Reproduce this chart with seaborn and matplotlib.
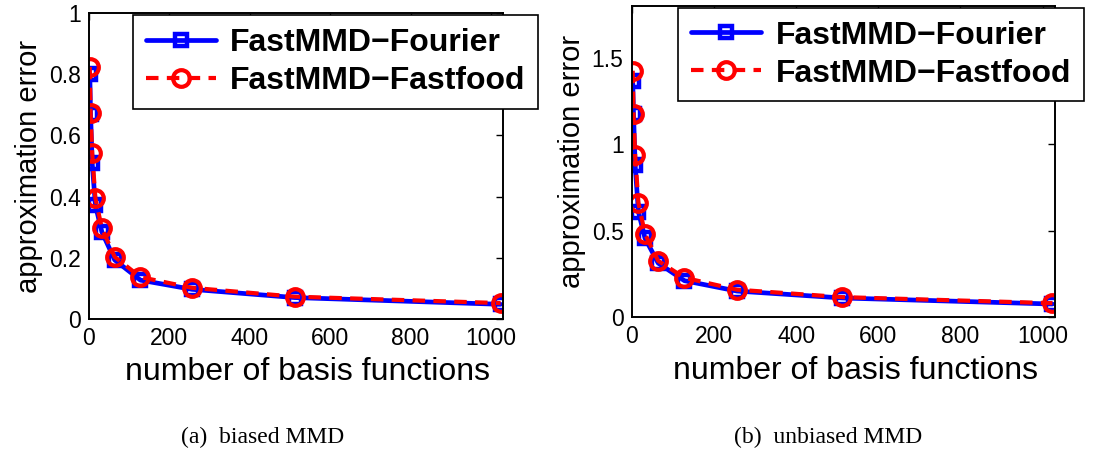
import numpy as np
import pandas as pd
import matplotlib
matplotlib.use("Agg")
import matplotlib.pyplot as plt
import seaborn as sns

# number of basis functions
n_basis = [2, 4, 8, 16, 32, 64, 128, 256, 512, 1024]

# approximation error, biased MMD
biased_fourier = [0.80, 0.67, 0.51, 0.373, 0.285, 0.193, 0.127, 0.097, 0.070, 0.048]
biased_fastfood = [0.824, 0.673, 0.542, 0.395, 0.297, 0.203, 0.137, 0.102, 0.073, 0.052]

# approximation error, unbiased MMD
unbiased_fourier = [1.368, 1.175, 0.877, 0.608, 0.456, 0.312, 0.21, 0.15, 0.11, 0.075]
unbiased_fastfood = [1.425, 1.175, 0.935, 0.66, 0.48, 0.325, 0.227, 0.158, 0.115, 0.08]

series_names = ["FastMMD\u2212Fourier", "FastMMD\u2212Fastfood"]
captions = ["(a)  biased MMD", "(b)  unbiased MMD"]
y_ticks = [[0, 0.2, 0.4, 0.6, 0.8, 1.0], [0, 0.5, 1.0, 1.5]]
y_ticklabels = [["0", "0.2", "0.4", "0.6", "0.8", "1"], ["0", "0.5", "1", "1.5"]]
y_limits = [(0, 1.0), (0, 1.8)]
x_ticks = [0, 200, 400, 600, 800, 1000]

sns.set_theme(style="white")
plt.rcParams["font.family"] = ["Liberation Sans", "DejaVu Sans"]
plt.rcParams["text.color"] = "black"
plt.rcParams["axes.labelcolor"] = "black"
plt.rcParams["xtick.color"] = "black"
plt.rcParams["ytick.color"] = "black"

fig = plt.figure(figsize=(10.97, 4.65), dpi=100)
ax_left = fig.add_axes([0.0811, 0.314, 0.3774, 0.658])
ax_right = fig.add_axes([0.576, 0.3183, 0.3856, 0.669])

panels = [
    (ax_left, biased_fourier, biased_fastfood),
    (ax_right, unbiased_fourier, unbiased_fastfood),
]

legend_anchor = [(0.106, 0.993), (0.109, 0.994)]

for i, (ax, fourier, fastfood) in enumerate(panels):
    df = pd.DataFrame({"n": n_basis, "fourier": fourier, "fastfood": fastfood})
    sns.lineplot(data=df, x="n", y="fourier", ax=ax, color="#0000ff",
                 linewidth=3.4, marker="s", markersize=9, markerfacecolor="none",
                 markeredgecolor="#0000ff", markeredgewidth=3.2,
                 label=series_names[0])
    sns.lineplot(data=df, x="n", y="fastfood", ax=ax, color="#ff0000",
                 linewidth=3.0, linestyle=(0, (3, 2)), marker="o", markersize=12,
                 markerfacecolor="none", markeredgecolor="#ff0000",
                 markeredgewidth=3.0, label=series_names[1])

    ax.set_xlim(0, 1030)
    ax.set_ylim(*y_limits[i])
    ax.set_xticks(x_ticks)
    ax.set_xticklabels([str(t) for t in x_ticks])
    ax.set_yticks(y_ticks[i])
    ax.set_yticklabels(y_ticklabels[i])
    ax.tick_params(direction="in", length=5, width=1.0, top=True, right=True,
                   labelsize=16.5, colors="black", pad=6)
    for s in ax.spines.values():
        s.set_color("black")
        s.set_linewidth(1.4)
    ax.set_xlabel("number of basis functions", fontsize=23)
    ax.xaxis.set_label_coords(0.528, -0.125)
    ax.set_ylabel("approximation error", fontsize=21, labelpad=4)
    ax.set_facecolor("white")

    leg = ax.legend(loc="upper left", bbox_to_anchor=legend_anchor[i],
                    prop={"weight": "bold", "size": 23}, frameon=True,
                    fancybox=False, edgecolor="black", framealpha=1,
                    handlelength=2.2, handletextpad=0.45, borderpad=0.4,
                    labelspacing=0.25, borderaxespad=0)
    leg.get_frame().set_linewidth(1.2)

fig.text(0.239, 1 - 437 / 465, captions[0], ha="center", va="center",
         fontsize=17, family=["Liberation Serif", "DejaVu Serif"])
fig.text(0.755, 1 - 437 / 465, captions[1], ha="center", va="center",
         fontsize=17, family=["Liberation Serif", "DejaVu Serif"])

fig.savefig("out.png", dpi=100, facecolor="white")
